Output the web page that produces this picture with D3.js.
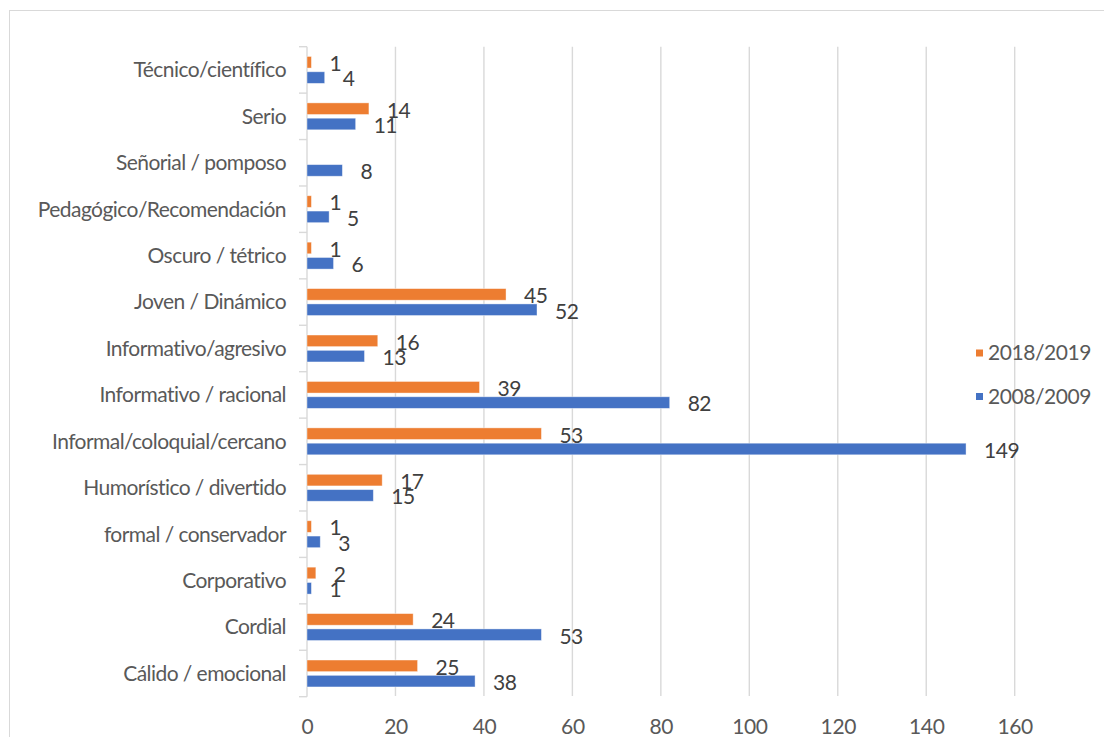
<!DOCTYPE html>
<html>
<head>
<meta charset="utf-8">
<script src="https://cdn.jsdelivr.net/npm/d3@7/dist/d3.min.js"></script>
<style>
  html, body { margin: 0; padding: 0; background: #fff; }
  svg { display: block; }
  text { font-family: Lato, "Open Sans", "Noto Sans", sans-serif; }
</style>
</head>
<body>
<svg id="chart" width="1104" height="737"></svg>
<script>
// Categories listed top to bottom as they appear on the vertical axis
const categories = [
  "Técnico/científico",
  "Serio",
  "Señorial / pomposo",
  "Pedagógico/Recomendación",
  "Oscuro / tétrico",
  "Joven / Dinámico",
  "Informativo/agresivo",
  "Informativo / racional",
  "Informal/coloquial/cercano",
  "Humorístico / divertido",
  "formal / conservador",
  "Corporativo",
  "Cordial",
  "Cálido / emocional"
];
const values2018 = [1, 14, null, 1, 1, 45, 16, 39, 53, 17, 1, 2, 24, 25];
const values2008 = [4, 11, 8, 5, 6, 52, 13, 82, 149, 15, 3, 1, 53, 38];
const seriesNames = ["2018/2019", "2008/2009"];
const seriesColors = ["#ED7D31", "#4472C4"];
const xTicks = [0, 20, 40, 60, 80, 100, 120, 140, 160];

const svg = d3.select("#chart");

// Outer chart frame
svg.append("rect")
  .attr("x", 9.5).attr("y", 10.5)
  .attr("width", 1110).attr("height", 740)
  .attr("fill", "none").attr("stroke", "#d9d9d9").attr("stroke-width", 1);

const x = d3.scaleLinear().domain([0, 160]).range([307, 1014.7]);
const y = d3.scaleBand().domain(categories).range([46.7, 696.7]);
const bw = y.bandwidth();

// Vertical gridlines
svg.append("g").selectAll("line")
  .data(xTicks.filter(t => t > 0))
  .join("line")
  .attr("x1", d => x(d)).attr("x2", d => x(d))
  .attr("y1", 46.7).attr("y2", 696)
  .attr("stroke", "#d9d9d9").attr("stroke-width", 1.4);

// X axis tick labels
const xAxis = d3.axisBottom(x).tickValues(xTicks).tickSize(0).tickPadding(0);
const gx = svg.append("g").attr("transform", "translate(0,718)").call(xAxis);
gx.select(".domain").remove();
gx.selectAll("text")
  .attr("fill", "#595959")
  .attr("font-size", 21)
  .attr("font-family", "Lato, 'Open Sans', sans-serif")
  .attr("letter-spacing", "-0.4px")
  .attr("dy", "0.76em");

// Category axis: line, ticks at band boundaries, labels
svg.append("line")
  .attr("x1", 307).attr("x2", 307)
  .attr("y1", 46.7).attr("y2", 696.7)
  .attr("stroke", "#d9d9d9").attr("stroke-width", 1.4);
const bounds = categories.map(c => y(c)).concat([y(categories[categories.length - 1]) + bw]);
svg.append("g").selectAll("line")
  .data(bounds)
  .join("line")
  .attr("x1", 299).attr("x2", 307)
  .attr("y1", d => d).attr("y2", d => d)
  .attr("stroke", "#d9d9d9").attr("stroke-width", 1.4);

svg.append("g").selectAll("text")
  .data(categories)
  .join("text")
  .attr("x", 286)
  .attr("y", d => y(d) + bw / 2)
  .attr("dy", "0.35em")
  .attr("text-anchor", "end")
  .attr("fill", "#595959")
  .attr("font-size", 21)
  .attr("letter-spacing", "-0.55px")
  .text(d => d);

// Bars: 2018/2019 above, 2008/2009 below within each category band
const barH = bw * 0.25;
const gap = bw * 0.04;
const rows = [];
categories.forEach((c, i) => {
  rows.push({ cat: c, s: 0, v: values2018[i] });
  rows.push({ cat: c, s: 1, v: values2008[i] });
});
const shown = rows.filter(r => r.v != null);

function barTop(r) {
  const c = y(r.cat) + bw / 2;
  return r.s === 0 ? c - gap - barH : c + gap;
}

svg.append("g").selectAll("rect")
  .data(shown)
  .join("rect")
  .attr("x", x(0))
  .attr("y", d => barTop(d))
  .attr("width", d => x(d.v) - x(0))
  .attr("height", barH)
  .attr("fill", d => seriesColors[d.s])
  .attr("stroke", "#ffffff")
  .attr("stroke-opacity", 0.5)
  .attr("stroke-width", 0.8);

// Data labels
svg.append("g").selectAll("text")
  .data(shown)
  .join("text")
  .attr("x", d => x(d.v) + 18)
  .attr("y", d => barTop(d) + barH / 2 + 1.5)
  .attr("dy", "0.35em")
  .attr("fill", "#404040")
  .attr("font-size", 21)
  .attr("letter-spacing", "-0.5px")
  .text(d => d.v);

// Legend
const legend = svg.append("g");
seriesNames.forEach((name, i) => {
  const cy = 353 + i * 43.5;
  legend.append("rect")
    .attr("x", 976).attr("y", cy - 3.5)
    .attr("width", 7).attr("height", 7)
    .attr("fill", seriesColors[i]);
  legend.append("text")
    .attr("x", 988).attr("y", cy)
    .attr("dy", "0.35em")
    .attr("fill", "#595959")
    .attr("font-size", 21)
    .attr("letter-spacing", "-0.45px")
    .text(name);
});
</script>
</body>
</html>
